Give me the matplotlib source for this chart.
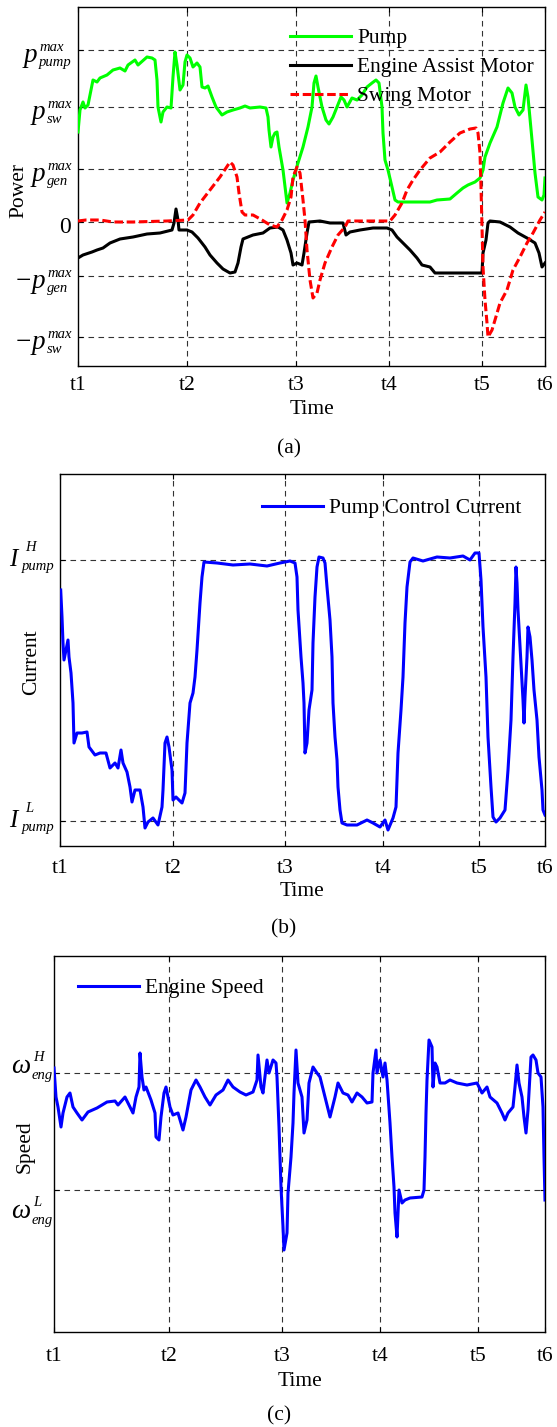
import matplotlib
matplotlib.use("Agg")
import matplotlib.pyplot as plt
import numpy as np

plt.rcParams['font.family'] = ['Liberation Serif', 'DejaVu Serif']

# ---------------- Panel (a) : Power ----------------
tick_a = [0, 109, 218, 311, 404, 467]
tick_labels = ['t1', 't2', 't3', 't4', 't5', 't6']
pow_levels = [-115, -54, 0, 53, 115, 172]
# (sign, base, superscript, subscript) for each power level
pow_labels = [('\u2212', 'p', 'max', 'sw'), ('\u2212', 'p', 'max', 'gen'), ('', '0', '', ''),
              ('', 'p', 'max', 'gen'), ('', 'p', 'max', 'sw'), ('', 'p', 'max', 'pump')]

pump_t = [0, 2, 5, 7, 10, 13, 15, 19, 22, 29, 35, 42, 47, 50, 57, 60, 69, 74, 77, 79, 80, 83, 85, 89, 93,
          95, 97, 99, 102, 105, 107, 109, 112, 115, 119, 122, 124, 127, 130, 134, 138, 144, 149, 155, 162,
          167, 172, 182, 188, 190, 191, 193, 195, 197, 199, 201, 205, 209, 212, 215, 220, 225, 230, 234,
          236, 238, 240, 244, 248, 251, 255, 259, 263, 266, 269, 274, 279, 284, 289, 294, 298, 301, 304,
          305, 307, 310, 314, 317, 320, 335, 352, 359, 372, 379, 385, 390, 397, 402, 405, 407, 412, 419,
          425, 430, 434, 437, 441, 445, 448, 450, 454, 457, 460, 464, 466, 467]
pump_p = [90, 112, 120, 114, 117, 132, 142, 140, 144, 147, 152, 154, 151, 157, 162, 157, 165, 164, 162, 142,
          115, 100, 110, 115, 114, 145, 170, 157, 132, 137, 160, 167, 164, 155, 159, 155, 135, 134, 136, 125,
          115, 107, 110, 112, 114, 116, 114, 115, 114, 105, 92, 75, 85, 89, 90, 75, 52, 19, 29, 42, 59, 75,
          95, 115, 139, 146, 135, 115, 102, 98, 105, 115, 125, 122, 115, 124, 122, 127, 135, 139, 142, 139,
          115, 89, 62, 52, 35, 22, 20, 20, 20, 22, 23, 29, 34, 37, 40, 44, 52, 65, 79, 95, 119, 134, 129,
          115, 107, 112, 137, 125, 82, 49, 25, 22, 27, 44]

eam_t = [0, 5, 14, 19, 25, 32, 42, 55, 69, 82, 94, 96, 98, 100, 101, 109, 114, 120, 127, 132, 139, 145, 152,
         157, 160, 163, 165, 175, 185, 192, 200, 205, 209, 213, 215, 219, 224, 226, 229, 231, 242, 252, 265,
         268, 272, 282, 295, 309, 314, 319, 325, 332, 339, 344, 352, 357, 375, 392, 404, 405, 408, 410, 412,
         422, 432, 440, 449, 457, 461, 464, 467]
eam_p = [-36, -33, -30, -28, -26, -21, -17, -15, -12, -11, -8, -1, 13, 2, -8, -8, -10, -16, -25, -33, -41, -47,
         -51, -50, -41, -25, -17, -13, -11, -6, -5, -8, -18, -31, -43, -41, -43, -31, -11, 0, 1, -1, -1, -13,
         -10, -8, -6, -6, -8, -15, -21, -28, -36, -43, -45, -51, -51, -51, -51, -31, -18, -1, 1, 0, -5, -11,
         -16, -21, -31, -45, -41]

swing_t = [0, 8, 22, 35, 55, 89, 110, 115, 122, 132, 142, 152, 155, 159, 161, 164, 167, 175, 184, 192, 199,
           204, 209, 213, 215, 219, 222, 225, 227, 229, 232, 235, 239, 242, 247, 254, 260, 267, 270, 292, 312,
           317, 324, 329, 335, 342, 352, 362, 372, 382, 392, 398, 400, 402, 403, 404, 405, 407, 409, 410, 414,
           417, 422, 429, 435, 442, 449, 455, 462, 467]
swing_p = [1, 2, 2, 0, 0, 1, 2, 7, 19, 32, 45, 60, 57, 45, 29, 10, 7, 7, 2, -3, -5, 2, 12, 25, 45, 55, 49, 22,
           2, -28, -58, -76, -71, -58, -41, -25, -13, -5, 1, 1, 1, 7, 19, 32, 42, 52, 64, 70, 80, 89, 93, 94,
           89, 69, 35, -5, -45, -78, -101, -115, -108, -98, -81, -68, -48, -35, -21, -11, 2, 10]

# ---------------- Panel (b) : Current ----------------
tick_b = [0, 113, 225, 323, 419, 485]
cur_levels = [0, 261]
cur_labels = [('', 'I', 'L', 'pump'), ('', 'I', 'H', 'pump')]

cur_t = [0.7, 2, 3, 4, 6, 8, 9, 11, 13, 14, 17, 22, 27, 29, 35, 40, 46, 50, 55, 58, 61, 63, 67, 70, 72, 75,
         80, 83, 85, 88, 93, 98, 102, 103, 105, 107, 109, 112, 113, 116, 122, 125, 127, 130, 133, 135, 137,
         140, 142, 144, 157, 173, 190, 207, 220, 230, 235, 237, 238, 241, 243, 244, 245, 247, 249, 252, 253,
         255, 257, 259, 263, 265, 267, 270, 272, 273, 275, 277, 278, 280, 282, 287, 297, 307, 313, 320, 325,
         328, 333, 336, 338, 341, 343, 345, 347, 350, 353, 363, 377, 390, 403, 410, 415, 419, 421, 423, 426,
         428, 431, 433, 436, 440, 445, 448, 451, 453, 455, 456, 457, 458, 461, 463, 464, 465, 467, 468, 470,
         472, 474, 477, 479, 482, 483, 485]
cur_v = [231, 204, 178, 161, 171, 181, 164, 148, 118, 78, 88, 88, 89, 74, 66, 68, 68, 53, 58, 53, 71, 58, 49,
         34, 19, 31, 31, 14, -7, -1, 3, -4, 14, 31, 78, 84, 74, 51, 21, 24, 18, 28, 78, 118, 128, 144, 171,
         218, 244, 259, 258, 256, 257, 255, 258, 260, 258, 244, 211, 164, 138, 118, 68, 78, 111, 131, 178,
         224, 254, 264, 263, 258, 234, 201, 164, 118, 84, 61, 34, 11, -2, -4, -4, 1, -2, -6, 1, -9, 3, 14, 68,
         111, 144, 198, 234, 259, 263, 260, 264, 263, 265, 261, 268, 268, 241, 194, 144, 84, 34, 4, -1, 3, 11,
         51, 101, 164, 218, 254, 238, 211, 158, 121, 98, 124, 164, 194, 184, 161, 131, 101, 64, 31, 11, 6]

# ---------------- Panel (c) : Speed ----------------
tick_c = [0, 115, 228, 326, 424, 491]
spd_levels = [0, 117]
spd_labels = [('', '\u03c9', 'L', 'eng'), ('', '\u03c9', 'H', 'eng')]

spd_t = [0, 2, 4, 7, 9, 13, 16, 19, 23, 28, 34, 43, 53, 61, 64, 71, 74, 79, 82, 85, 86, 88, 90, 92, 97, 101,
         102, 105, 107, 110, 112, 116, 119, 124, 129, 132, 137, 142, 146, 151, 156, 162, 169, 174, 179, 186,
         192, 199, 203, 204, 207, 209, 213, 215, 219, 222, 223, 225, 227, 229, 230, 233, 234, 237, 239, 240,
         242, 244, 248, 250, 253, 255, 259, 263, 266, 271, 276, 281, 284, 289, 294, 298, 303, 308, 313, 318,
         319, 322, 323, 326, 329, 331, 333, 336, 338, 340, 341, 343, 345, 348, 351, 356, 368, 370, 371, 372,
         373, 375, 378, 379, 381, 383, 386, 391, 396, 403, 413, 423, 428, 433, 436, 443, 448, 451, 454, 459,
         461, 463, 465, 468, 470, 472, 474, 477, 479, 482, 484, 487, 489, 490, 491]
spd_v = [122, 93, 83, 63, 77, 93, 97, 83, 77, 70, 78, 82, 88, 89, 85, 93, 87, 77, 93, 103, 137, 113, 100, 103,
         90, 77, 53, 50, 73, 97, 103, 83, 75, 77, 60, 73, 100, 110, 103, 93, 85, 95, 100, 110, 103, 98, 95, 98,
         110, 135, 103, 97, 130, 117, 130, 127, 113, 63, 3, -37, -60, -43, -3, 33, 67, 97, 140, 107, 93, 57,
         70, 107, 123, 117, 113, 93, 73, 93, 107, 97, 95, 88, 97, 93, 87, 88, 117, 140, 117, 130, 113, 127,
         110, 67, 33, 3, -23, -47, 0, -13, -10, -8, -7, 0, 33, 77, 110, 150, 143, 103, 127, 123, 107, 107, 110,
         107, 105, 107, 97, 103, 93, 87, 77, 70, 77, 83, 103, 125, 107, 93, 73, 57, 80, 133, 135, 130, 117,
         113, 83, 33, -10]

W, H = 557, 1427
fig = plt.figure(figsize=(W / 100, H / 100), dpi=100)


def ax_rect(l, t, r, b):
    return [l / W, 1 - b / H, (r - l) / W, (b - t) / H]


def ftxt(x, y, s, **kw):
    """text at pixel position (x from left, y from top)"""
    return fig.text(x / W, 1 - y / H, s, **kw)


grid_kw = dict(color='#333333', lw=0.8, dashes=(5, 4), zorder=1)
fs = 15.5
blue = '#0000ff'
serif = ['Liberation Serif', 'DejaVu Serif']


def style_axes(ax, xticks, ylevels, ylim, xpad):
    ax.set_xlim(xticks[0], xticks[-1])
    ax.set_ylim(*ylim)
    ax.set_xticks(xticks)
    ax.set_xticklabels(tick_labels, fontsize=fs)
    ax.set_yticks(ylevels)
    ax.set_yticklabels([])
    ax.tick_params(axis='both', direction='in', length=3.5, width=0.8,
                   top=True, right=True)
    ax.tick_params(axis='x', pad=xpad)
    for x in xticks[1:-1]:
        ax.axvline(x, **grid_kw)
    for y in ylevels:
        ax.axhline(y, **grid_kw)
    for s in ax.spines.values():
        s.set_linewidth(1.0)


def place_labels(ax, rect, xlab_y, ylab_x, ylab_y, ylabel):
    l, t, r, b = rect
    ax.set_xlabel('Time', fontsize=fs)
    ax.xaxis.set_label_coords(0.5, (b - xlab_y) / (b - t))
    ax.xaxis.label.set_va('center')
    ax.set_ylabel(ylabel, fontsize=fs)
    ax.yaxis.set_label_coords((ylab_x - l) / (r - l), (b - ylab_y) / (b - t))
    ax.yaxis.label.set_va('center')


def level_px(ax, level):
    return H - ax.transData.transform((0, level))[1]


def tick_label(ax, level, spec, geom):
    sign, base, sup, sub = spec
    L = level_px(ax, level)
    g = geom
    if base == '0':
        ftxt(g['zero_right'], L + g['zero_dy'], '0', ha='right', va='baseline',
             fontsize=g['zero_fs'], family=serif)
        return
    if sign:
        ftxt(g['minus_x'], L + g['base_dy'] - g['minus_up'], sign, ha='left', va='baseline',
             fontsize=g['base_fs'], family=serif)
    ftxt(g['base_x'], L + g['base_dy'], base, ha='left', va='baseline', fontsize=g['base_fs'],
         family=serif, style='italic')
    sx = g['scr_x']
    ftxt(sx + g.get('sup_dx', 0), L + g['sup_dy'], sup, ha='left', va='baseline',
         fontsize=g['scr_fs'], family=serif, style='italic')
    ftxt(sx, L + g['sub_dy'], sub, ha='left', va='baseline', fontsize=g['scr_fs'],
         family=serif, style='italic')


# (a)
ra = (78, 7, 545, 366)
axa = fig.add_axes(ax_rect(*ra))
axa.plot(pump_t, pump_p, color='#00ff00', lw=2.2, label='Pump', zorder=3)
axa.plot(eam_t, eam_p, color='black', lw=2.2, label='Engine Assist Motor', zorder=3)
axa.plot(swing_t, swing_p, color='red', lw=2.2, dashes=(2.8, 1.2), label='Swing Motor', zorder=3)
style_axes(axa, tick_a, pow_levels, (-144, 215), 7.5)
place_labels(axa, ra, 410, 19, 191, 'Power')
axa.legend(loc='upper left', bbox_to_anchor=(0.454, 0.9415), frameon=False, fontsize=fs,
           handlelength=2.85, handletextpad=0.28, labelspacing=0.42, borderpad=0, borderaxespad=0)
ftxt(289, 449, '(a)', ha='center', va='center', fontsize=fs)

geom_a = dict(base_fs=19.5, scr_fs=10.5, base_x=32, scr_x=47, base_dy=12, sup_dy=1, sub_dy=16,
              minus_x=16, minus_up=0, zero_right=71, zero_dy=11, zero_fs=17)
for lev, spec in zip(pow_levels, pow_labels):
    g = dict(geom_a)
    if spec[3] == 'pump':
        g['base_x'], g['scr_x'] = 24, 39
    tick_label(axa, lev, spec, g)

# (b)
rb = (60, 474, 545, 846)
axb = fig.add_axes(ax_rect(*rb))
axb.plot(cur_t, cur_v, color=blue, lw=2.2, label='Pump Control Current', zorder=3)
style_axes(axb, tick_b, cur_levels, (-25, 347), 9.5)
place_labels(axb, rb, 891, 32, 662, 'Current')
axb.legend(loc='upper left', bbox_to_anchor=(0.4165, 0.935), frameon=False, fontsize=fs,
           handlelength=2.85, handletextpad=0.28, borderpad=0, borderaxespad=0)
ftxt(284, 929, '(b)', ha='center', va='center', fontsize=fs)

geom_b = dict(base_fs=18, scr_fs=10.5, base_x=9, scr_x=22, sup_dx=3, base_dy=6, sup_dy=-9, sub_dy=10)
for lev, spec in zip(cur_levels, cur_labels):
    tick_label(axb, lev, spec, geom_b)

# (c)
rc = (54, 956, 545, 1332)
axc = fig.add_axes(ax_rect(*rc))
axc.plot(spd_t, spd_v, color=blue, lw=2.2, label='Engine Speed', zorder=3)
style_axes(axc, tick_c, spd_levels, (-142, 234), 11)
place_labels(axc, rc, 1381, 25, 1147, 'Speed')
axc.legend(loc='upper left', bbox_to_anchor=(0.0489, 0.9415), frameon=False, fontsize=fs,
           handlelength=2.85, handletextpad=0.28, borderpad=0, borderaxespad=0)
ftxt(279, 1416, '(c)', ha='center', va='center', fontsize=fs)

geom_cH = dict(base_fs=19.5, scr_fs=10.5, base_x=11, scr_x=32, sup_dx=1, base_dy=0, sup_dy=-12, sub_dy=6)
geom_cL = dict(geom_cH, base_dy=28, sup_dy=16, sub_dy=34)
tick_label(axc, spd_levels[0], spd_labels[0], geom_cL)
tick_label(axc, spd_levels[1], spd_labels[1], geom_cH)

fig.savefig('out.png', dpi=100)
